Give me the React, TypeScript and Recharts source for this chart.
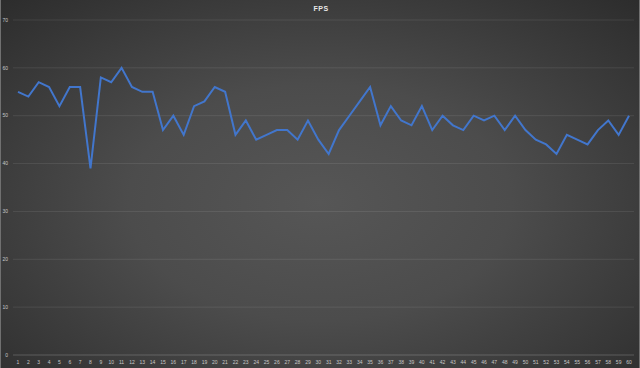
import React from "react";
import { LineChart, Line, XAxis, YAxis, CartesianGrid } from "recharts";

const frames: number[] = Array.from({ length: 60 }, (_, i) => i + 1);
const fpsValues: number[] = [
  55, 54, 57, 56, 52, 56, 56, 39, 58, 57,
  60, 56, 55, 55, 47, 50, 46, 52, 53, 56,
  55, 46, 49, 45, 46, 47, 47, 45, 49, 45,
  42, 47, 50, 53, 56, 48, 52, 49, 48, 52,
  47, 50, 48, 47, 50, 49, 50, 47, 50, 47,
  45, 44, 42, 46, 45, 44, 47, 49, 46, 50,
];
const yTicks: number[] = [0, 10, 20, 30, 40, 50, 60, 70];
const title = "FPS";

const data = frames.map((f, i) => ({ frame: String(f), fps: fpsValues[i] }));

const tickStyle = { fill: "#c8c8c8", fontSize: 5, fontFamily: "Liberation Sans, Arial, sans-serif" };

export default function App() {
  return (
    <div
      style={{
        position: "absolute",
        left: 0,
        top: 0,
        width: 640,
        height: 368,
        boxSizing: "border-box",
        borderLeft: "1px solid #707070",
        borderRight: "1px solid #707070",
        background: "radial-gradient(ellipse 75% 80% at 50% 55%, #565656 0%, #4c4c4c 40%, #2a2a2a 100%)",
        overflow: "hidden",
      }}
    >
      <div
        style={{
          position: "absolute",
          top: 5,
          left: 0,
          width: 640,
          textAlign: "center",
          color: "#e8e8e8",
          fontFamily: "Liberation Sans, Arial, sans-serif",
          fontWeight: "bold",
          fontSize: 7,
          letterSpacing: 0.5,
        }}
      >
        {title}
      </div>
      <div style={{ position: "absolute", left: -1, top: 0 }}>
        <LineChart width={640} height={368} data={data} margin={{ top: 20, right: 6, bottom: 0, left: 0 }}>
          <CartesianGrid vertical={false} stroke="rgba(255,255,255,0.09)" strokeWidth={1} />
          <XAxis
            dataKey="frame"
            interval={0}
            tickLine={false}
            tickSize={0}
            tickMargin={5}
            axisLine={{ stroke: "rgba(255,255,255,0.12)" }}
            tick={tickStyle}
            padding={{ left: 5, right: 5 }}
            height={13}
          />
          <YAxis
            domain={[0, 70]}
            ticks={yTicks}
            interval={0}
            tickLine={false}
            axisLine={false}
            tickSize={0}
            tickMargin={5}
            tick={tickStyle}
            width={13}
          />
          <Line
            type="linear"
            dataKey="fps"
            stroke="#4276cc"
            strokeWidth={2}
            dot={false}
            isAnimationActive={false}
          />
        </LineChart>
      </div>
    </div>
  );
}
